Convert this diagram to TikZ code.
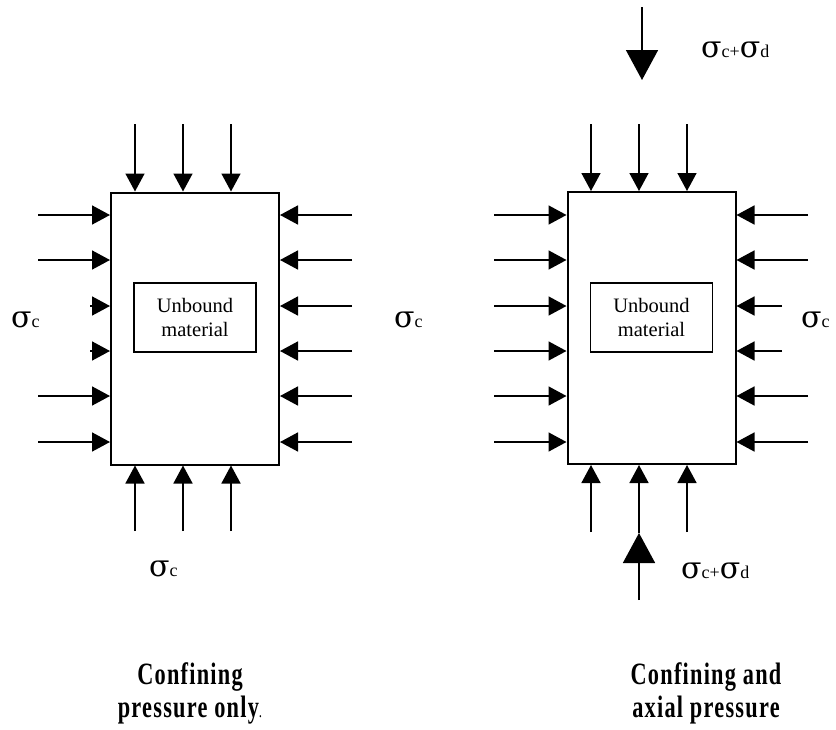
\documentclass[tikz,border=0pt]{standalone}
\usepackage{fontspec}
\setmainfont{Liberation Serif}
\newfontfamily\sigfont{DejaVu Serif}
\newfontfamily\capfont[FakeStretch=0.72,LetterSpace=4]{Liberation Serif}
\usetikzlibrary{arrows.meta, positioning, calc}
\newcommand{\sig}[1]{{\sigfont\fontsize{30}{30}\selectfont σ}{\fontsize{18}{18}\selectfont #1}}

\begin{document}
\begin{tikzpicture}[
  x=1pt, y=-1pt,
  specimen/.style={draw, line width=2pt, minimum width=168pt, minimum height=272pt, inner sep=0pt},
  core/.style={draw, line width=1.2pt, minimum width=122pt, minimum height=69pt, inner sep=0pt, align=center, font=\fontsize{20.5}{24}\selectfont},
  arr/.style={-{Triangle[length=18pt,width=19pt]}, line width=1.6pt},
  bigarr/.style={-{Triangle[length=30pt,width=32pt]}, line width=1.6pt},
  stress/.style={inner sep=0pt, anchor=base west},
  caption/.style={align=center, font=\capfont\bfseries\fontsize{31}{33}\selectfont}
]
\useasboundingbox (0,0) rectangle (836,729);
% specimens
\node[specimen] (specL) at (195,328.5) {};
\node[specimen] (specR) at (651.5,328) {};
\node[core] (matL) at (195,317.5) {Unbound\\material};
\node[core] (matR) at (651.5,317.5) {Unbound\\material};
% confining pressure only
\foreach \x in {135,183,231} {
  \draw[arr] (\x,124) -- (\x,124 |- specL.north);
  \draw[arr] (\x,531) -- (\x,531 |- specL.south);
}
\foreach \y in {215,260,396,442} \draw[arr] (38,\y) -- (38,\y -| specL.west);
\foreach \y in {306,351} \draw[arr] (90,\y) -- (90,\y -| specL.west);
\foreach \y in {215,260,306,351,396,442} \draw[arr] (352,\y) -- (352,\y -| specL.east);
% confining and axial pressure
\foreach \x in {591,639,687} \draw[arr] (\x,124) -- (\x,124 |- specR.north);
\foreach \x in {591,687} \draw[arr] (\x,532) -- (\x,532 |- specR.south);
\foreach \y in {215,260,306,351,396,442} \draw[arr] (494,\y) -- (494,\y -| specR.west);
\foreach \y in {215,260,396,442} \draw[arr] (808,\y) -- (808,\y -| specR.east);
\foreach \y in {306,351} \draw[arr] (782,\y) -- (782,\y -| specR.east);
\coordinate (axTop) at (642,7);
\coordinate (axTopTip) at (642,80);
\coordinate (axBot) at (639,600);
\coordinate (axBotTip) at (639,533);
\draw[bigarr] (axTop) -- (axTopTip);
\draw[bigarr] (axBot) -- (axBotTip);
\draw[arr] (axBotTip) -- (axBotTip |- specR.south);
% labels
\node[stress] (sL) at (11,327) {\sig{c}};
\node[stress] (sM) at (394,327) {\sig{c}};
\node[stress] (sR) at (801,327) {\sig{c}};
\node[stress] (sB) at (149,576) {\sig{c}};
\node[stress] (sdT) at (701,57) {\sig{c+}\sig{d}};
\node[stress] (sdB) at (681,578) {\sig{c+}\sig{d}};
\node[caption] (capL) at (190,693) {Confining\\pressure only{\mdseries\fontsize{18}{18}\selectfont .}};
\node[caption] (capR) at (706,693) {Confining and\\axial pressure};
\end{tikzpicture}
\end{document}
